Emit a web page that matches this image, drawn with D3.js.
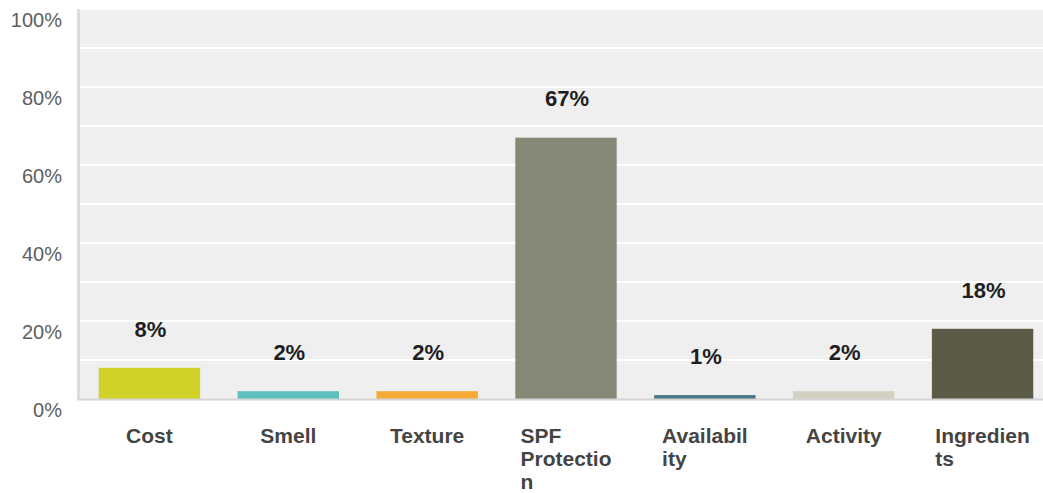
<!DOCTYPE html>
<html>
<head>
<meta charset="utf-8">
<script src="https://cdn.jsdelivr.net/npm/d3@7/dist/d3.min.js"></script>
<style>
  html, body { margin: 0; padding: 0; background: #ffffff; }
  svg { display: block; font-family: "Liberation Sans", Arial, Helvetica, sans-serif; }
</style>
</head>
<body>
<svg id="chart" width="1043" height="493"></svg>
<script>
// Survey answers: what matters most when choosing a sunscreen
const categories = ["Cost", "Smell", "Texture", "SPF Protection", "Availability", "Activity", "Ingredients"];
const percentages = [8, 2, 2, 67, 1, 2, 18];
const barColors = ["#d0d22a", "#5cc0bc", "#f5ab35", "#878776", "#4a7585", "#d2d0c0", "#5b5a46"];
const yTickValues = [0, 20, 40, 60, 80, 100];
const gridValues = [10, 20, 30, 40, 50, 60, 70, 80, 90, 100];

const svg = d3.select("#chart");
const plot = { left: 79, right: 1043, top: 9, bottom: 399 };

const x = d3.scaleBand()
  .domain(categories)
  .range([80, 1052])
  .paddingInner(0.27)
  .paddingOuter(0.135);

const y = d3.scaleLinear()
  .domain([0, 100])
  .range([plot.bottom, plot.top]);

// Plot background
svg.append("rect")
  .attr("x", plot.left)
  .attr("y", plot.top)
  .attr("width", plot.right - plot.left)
  .attr("height", plot.bottom - plot.top)
  .attr("fill", "#efefef");

// Horizontal gridlines every 10%
svg.append("g")
  .selectAll("line")
  .data(gridValues)
  .join("line")
  .attr("x1", plot.left)
  .attr("x2", plot.right)
  .attr("y1", d => y(d))
  .attr("y2", d => y(d))
  .attr("stroke", "#ffffff")
  .attr("stroke-width", 2);

// Left axis line
svg.append("line")
  .attr("x1", plot.left - 0.5)
  .attr("x2", plot.left - 0.5)
  .attr("y1", plot.top)
  .attr("y2", plot.bottom + 1)
  .attr("stroke", "#dcdcdc")
  .attr("stroke-width", 3);

// Y axis labels (sit just below their gridline)
const yAxis = d3.axisLeft(y)
  .tickValues(yTickValues)
  .tickFormat(d => d + "%")
  .tickSize(0)
  .tickPadding(0);

const yG = svg.append("g")
  .attr("transform", `translate(${62},0)`)
  .call(yAxis);
yG.select(".domain").remove();
yG.selectAll("text")
  .attr("dy", "0.35em")
  .attr("y", 10)
  .attr("fill", "#5e5e5e")
  .style("font-size", "20px")
  .style("font-family", "'Liberation Sans', Arial, sans-serif");

// Bars
svg.append("g")
  .selectAll("rect")
  .data(categories)
  .join("rect")
  .attr("x", d => x(d))
  .attr("width", x.bandwidth())
  .attr("y", (d, i) => y(percentages[i]))
  .attr("height", (d, i) => y(0) - y(percentages[i]))
  .attr("fill", (d, i) => barColors[i]);

// Baseline
svg.append("line")
  .attr("x1", plot.left - 2)
  .attr("x2", plot.right)
  .attr("y1", plot.bottom + 0.5)
  .attr("y2", plot.bottom + 0.5)
  .attr("stroke", "#d4d4d4")
  .attr("stroke-width", 2);

// Value labels above bars
svg.append("g")
  .selectAll("text")
  .data(categories)
  .join("text")
  .attr("x", d => x(d) + x.bandwidth() / 2 + 1)
  .attr("y", (d, i) => y(percentages[i]) - 39)
  .attr("dy", "0.35em")
  .attr("text-anchor", "middle")
  .attr("fill", "#1e1e1e")
  .style("font-size", "22px")
  .style("font-weight", "bold")
  .text((d, i) => percentages[i] + "%");

// Category labels, wrapped at nine characters per line
function wrapLabel(label, maxChars) {
  const lines = [];
  label.split(" ").forEach(word => {
    while (word.length > maxChars) {
      lines.push(word.slice(0, maxChars));
      word = word.slice(maxChars);
    }
    if (word.length) lines.push(word);
  });
  return lines;
}

const xAxis = d3.axisBottom(x).tickSize(0).tickFormat("");
const xG = svg.append("g")
  .attr("transform", `translate(0,${plot.bottom})`)
  .call(xAxis);
xG.select(".domain").remove();

xG.selectAll(".tick").each(function(d) {
  const lines = wrapLabel(d, 9);
  const g = d3.select(this);
  const t = g.append("text")
    .attr("fill", "#444444")
    .style("font-size", "21px")
    .style("font-weight", "bold")
    .style("font-family", "'Liberation Sans', Arial, sans-serif")
    .attr("y", 37);
  lines.forEach((line, i) => {
    t.append("tspan")
      .attr("x", 0)
      .attr("dy", i === 0 ? "0.35em" : "23px")
      .text(line);
  });
  if (lines.length > 1) {
    // Multi-line labels: left-align the lines and center the block
    const w = t.node().getBBox().width;
    t.attr("text-anchor", "start");
    t.selectAll("tspan").attr("x", -w / 2);
  } else {
    t.attr("text-anchor", "middle");
  }
});
</script>
</body>
</html>
